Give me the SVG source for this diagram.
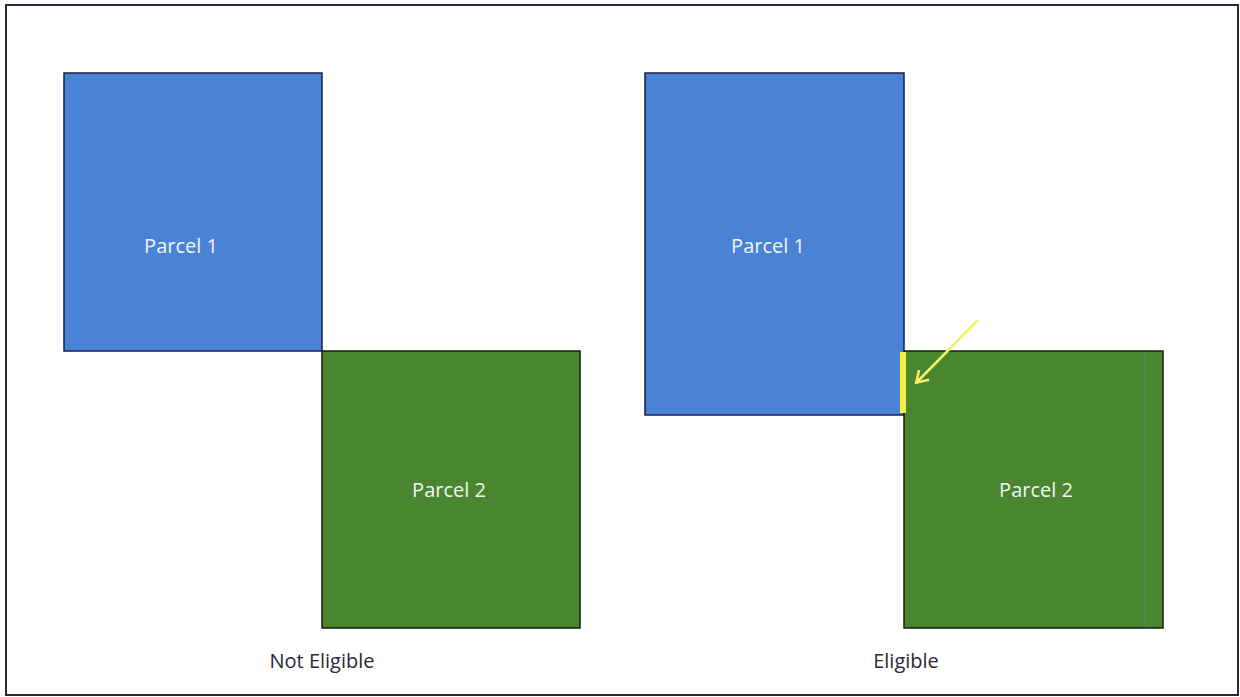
<svg xmlns="http://www.w3.org/2000/svg" width="1240" height="697" viewBox="0 0 1240 697">
<defs>
<style>
.blue{fill:#4a82d6;stroke:#14204a;stroke-width:1.5}
.green{fill:#4a8530;stroke:#14200f;stroke-width:1.5}
.lbl{font-family:"Open Sans","Liberation Sans",sans-serif;font-size:20px;fill:#f2f4f8;text-anchor:middle}
.cap{font-family:"Open Sans","Liberation Sans",sans-serif;font-size:20px;fill:#2a2a35;text-anchor:middle}
</style>
<marker id="ah" markerWidth="16" markerHeight="16" refX="12" refY="8" orient="auto" markerUnits="userSpaceOnUse" viewBox="0 0 16 16">
<path d="M2,1 L13,8 L2,15" fill="none" stroke="#f4f26a" stroke-width="2.5"/>
</marker>
</defs>
<rect x="0" y="0" width="1240" height="697" fill="#ffffff"/>
<rect x="6" y="5" width="1232" height="690" fill="none" stroke="#2a2a3a" stroke-width="2"/>
<g id="left-parcel1"><rect class="blue" x="64" y="73" width="258" height="278"/><text class="lbl" x="181" y="253">Parcel 1</text></g>
<g id="left-parcel2"><rect class="green" x="322" y="351" width="258" height="277"/><text class="lbl" x="449" y="497">Parcel 2</text></g>
<g id="right-parcel1"><rect class="blue" x="645" y="73" width="259" height="342"/><text class="lbl" x="768" y="253">Parcel 1</text></g>
<g id="right-parcel2"><rect class="green" x="904" y="351" width="259" height="277"/><line x1="1145" y1="352" x2="1145" y2="627" stroke="#5a86c8" stroke-width="1" opacity="0.6"/><text class="lbl" x="1036" y="497">Parcel 2</text></g>
<g id="captions"><text class="cap" x="322" y="668">Not Eligible</text><text class="cap" x="906" y="668">Eligible</text></g>
<g id="connectors">
<rect x="900" y="352" width="6" height="61" fill="#f5f03c"/>
<line x1="978" y1="320" x2="917" y2="382" stroke="#f4f26a" stroke-width="2.5" marker-end="url(#ah)"/>
</g>
</svg>
